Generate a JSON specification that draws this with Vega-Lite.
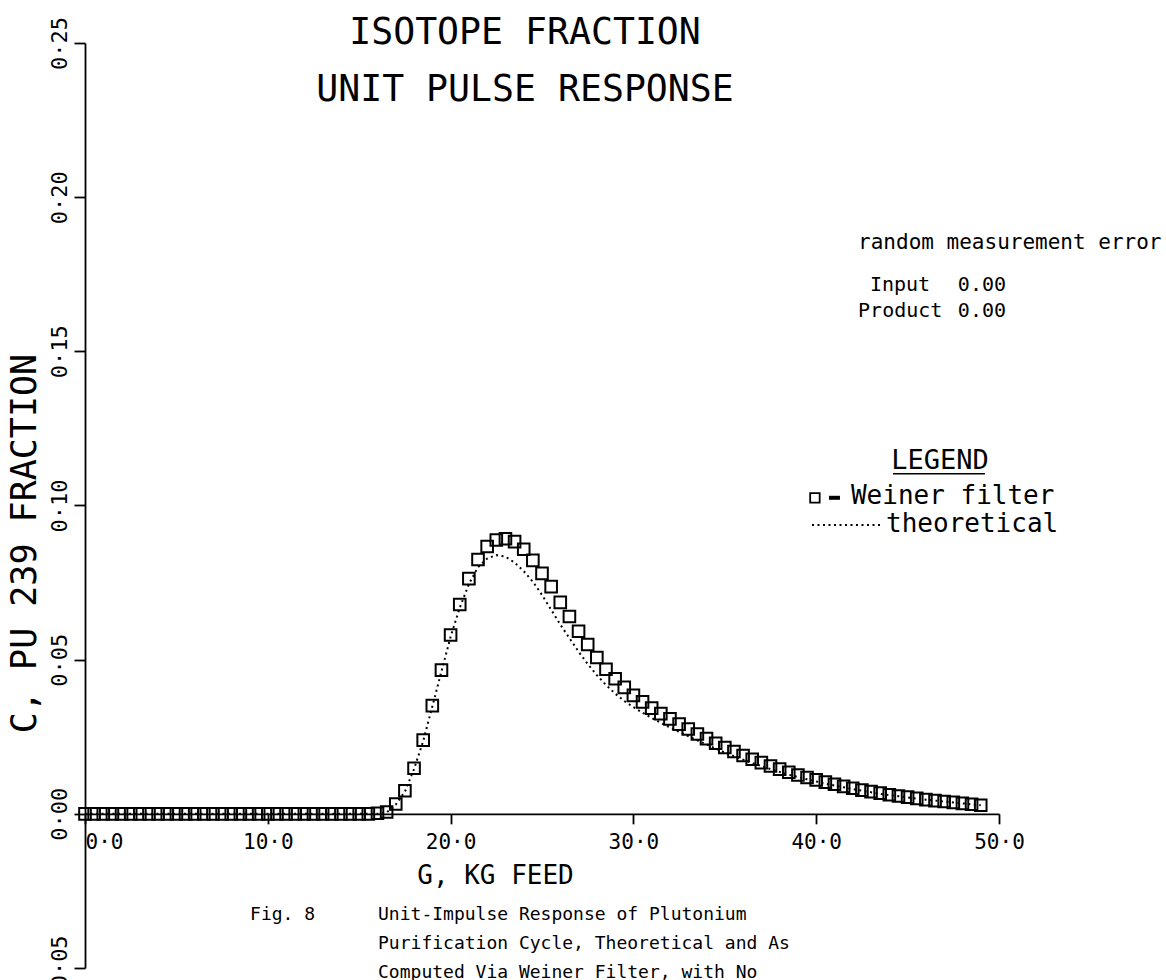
{
  "$schema": "https://vega.github.io/schema/vega-lite/v6.json",
  "width": 914,
  "height": 925,
  "autosize": {"type": "none"},
  "padding": {"left": 85, "top": 43, "right": 167, "bottom": 12},
  "background": "white",
  "config": {
    "view": {"stroke": null},
    "font": "DejaVu Sans Mono",
    "axis": {
      "grid": false,
      "domainColor": "black",
      "domainWidth": 1.8,
      "tickColor": "black",
      "tickWidth": 1.8,
      "labelColor": "black",
      "labelFont": "DejaVu Sans Mono",
      "labelFontSize": 21,
      "titleColor": "black",
      "titleFont": "DejaVu Sans Mono",
      "titleFontWeight": "normal"
    }
  },
  "datasets": {
    "pulse": [
      {"g": 0.0, "weiner": 0, "theoretical": 0},
      {"g": 0.5, "weiner": 0, "theoretical": 0},
      {"g": 1.0, "weiner": 0, "theoretical": 0},
      {"g": 1.5, "weiner": 0, "theoretical": 0},
      {"g": 2.0, "weiner": 0, "theoretical": 0},
      {"g": 2.5, "weiner": 0, "theoretical": 0},
      {"g": 3.0, "weiner": 0, "theoretical": 0},
      {"g": 3.5, "weiner": 0, "theoretical": 0},
      {"g": 4.0, "weiner": 0, "theoretical": 0},
      {"g": 4.5, "weiner": 0, "theoretical": 0},
      {"g": 5.0, "weiner": 0, "theoretical": 0},
      {"g": 5.5, "weiner": 0, "theoretical": 0},
      {"g": 6.0, "weiner": 0, "theoretical": 0},
      {"g": 6.5, "weiner": 0, "theoretical": 0},
      {"g": 7.0, "weiner": 0, "theoretical": 0},
      {"g": 7.5, "weiner": 0, "theoretical": 0},
      {"g": 8.0, "weiner": 0, "theoretical": 0},
      {"g": 8.5, "weiner": 0, "theoretical": 0},
      {"g": 9.0, "weiner": 0, "theoretical": 0},
      {"g": 9.5, "weiner": 0, "theoretical": 0},
      {"g": 10.0, "weiner": 0, "theoretical": 0},
      {"g": 10.5, "weiner": 0, "theoretical": 0},
      {"g": 11.0, "weiner": 0, "theoretical": 0},
      {"g": 11.5, "weiner": 0, "theoretical": 0},
      {"g": 12.0, "weiner": 0, "theoretical": 0},
      {"g": 12.5, "weiner": 0, "theoretical": 0},
      {"g": 13.0, "weiner": 0, "theoretical": 0},
      {"g": 13.5, "weiner": 0, "theoretical": 0},
      {"g": 14.0, "weiner": 0, "theoretical": 0},
      {"g": 14.5, "weiner": 0, "theoretical": 0},
      {"g": 15.0, "weiner": 0, "theoretical": 0},
      {"g": 15.5, "weiner": 0, "theoretical": 0},
      {"g": 16.0, "weiner": 0.0002, "theoretical": 0},
      {"g": 16.5, "weiner": 0.0006, "theoretical": 0.0004},
      {"g": 17.0, "weiner": 0.0032, "theoretical": 0.0030},
      {"g": 17.5, "weiner": 0.0075, "theoretical": 0.0072},
      {"g": 18.0, "weiner": 0.0148, "theoretical": 0.0145},
      {"g": 18.5, "weiner": 0.0239, "theoretical": 0.0236},
      {"g": 19.0, "weiner": 0.0351, "theoretical": 0.0348},
      {"g": 19.5, "weiner": 0.0466, "theoretical": 0.0462},
      {"g": 20.0, "weiner": 0.0580, "theoretical": 0.0574},
      {"g": 20.5, "weiner": 0.0679, "theoretical": 0.0668},
      {"g": 21.0, "weiner": 0.0763, "theoretical": 0.0745},
      {"g": 21.5, "weiner": 0.0825, "theoretical": 0.0800},
      {"g": 22.0, "weiner": 0.0867, "theoretical": 0.0828},
      {"g": 22.5, "weiner": 0.0888, "theoretical": 0.0839},
      {"g": 23.0, "weiner": 0.0892, "theoretical": 0.0834},
      {"g": 23.5, "weiner": 0.0883, "theoretical": 0.0815},
      {"g": 24.0, "weiner": 0.0858, "theoretical": 0.0787},
      {"g": 24.5, "weiner": 0.0822, "theoretical": 0.0753},
      {"g": 25.0, "weiner": 0.0780, "theoretical": 0.0710},
      {"g": 25.5, "weiner": 0.0737, "theoretical": 0.0662},
      {"g": 26.0, "weiner": 0.0686, "theoretical": 0.0614},
      {"g": 26.5, "weiner": 0.0640, "theoretical": 0.0570},
      {"g": 27.0, "weiner": 0.0592, "theoretical": 0.0526},
      {"g": 27.5, "weiner": 0.0549, "theoretical": 0.0486},
      {"g": 28.0, "weiner": 0.0507, "theoretical": 0.0450},
      {"g": 28.5, "weiner": 0.0469, "theoretical": 0.0418},
      {"g": 29.0, "weiner": 0.0438, "theoretical": 0.0390},
      {"g": 29.5, "weiner": 0.0410, "theoretical": 0.0366},
      {"g": 30.0, "weiner": 0.0384, "theoretical": 0.0346},
      {"g": 30.5, "weiner": 0.0363, "theoretical": 0.0328},
      {"g": 31.0, "weiner": 0.0343, "theoretical": 0.0311},
      {"g": 31.5, "weiner": 0.0325, "theoretical": 0.0295},
      {"g": 32.0, "weiner": 0.0308, "theoretical": 0.0280},
      {"g": 32.5, "weiner": 0.0291, "theoretical": 0.0266},
      {"g": 33.0, "weiner": 0.0275, "theoretical": 0.0252},
      {"g": 33.5, "weiner": 0.0259, "theoretical": 0.0238},
      {"g": 34.0, "weiner": 0.0244, "theoretical": 0.0225},
      {"g": 34.5, "weiner": 0.0229, "theoretical": 0.0212},
      {"g": 35.0, "weiner": 0.0215, "theoretical": 0.0199},
      {"g": 35.5, "weiner": 0.0202, "theoretical": 0.0187},
      {"g": 36.0, "weiner": 0.0189, "theoretical": 0.0176},
      {"g": 36.5, "weiner": 0.0177, "theoretical": 0.0165},
      {"g": 37.0, "weiner": 0.0166, "theoretical": 0.0155},
      {"g": 37.5, "weiner": 0.0155, "theoretical": 0.0145},
      {"g": 38.0, "weiner": 0.0145, "theoretical": 0.0136},
      {"g": 38.5, "weiner": 0.0135, "theoretical": 0.0127},
      {"g": 39.0, "weiner": 0.0126, "theoretical": 0.0119},
      {"g": 39.5, "weiner": 0.0118, "theoretical": 0.0112},
      {"g": 40.0, "weiner": 0.0110, "theoretical": 0.0105},
      {"g": 40.5, "weiner": 0.0103, "theoretical": 0.0098},
      {"g": 41.0, "weiner": 0.0096, "theoretical": 0.0092},
      {"g": 41.5, "weiner": 0.0089, "theoretical": 0.0086},
      {"g": 42.0, "weiner": 0.0083, "theoretical": 0.0080},
      {"g": 42.5, "weiner": 0.0077, "theoretical": 0.0075},
      {"g": 43.0, "weiner": 0.0072, "theoretical": 0.0070},
      {"g": 43.5, "weiner": 0.0067, "theoretical": 0.0065},
      {"g": 44.0, "weiner": 0.0062, "theoretical": 0.0061},
      {"g": 44.5, "weiner": 0.0058, "theoretical": 0.0057},
      {"g": 45.0, "weiner": 0.0054, "theoretical": 0.0053},
      {"g": 45.5, "weiner": 0.0050, "theoretical": 0.0049},
      {"g": 46.0, "weiner": 0.0046, "theoretical": 0.0046},
      {"g": 46.5, "weiner": 0.0043, "theoretical": 0.0043},
      {"g": 47.0, "weiner": 0.0040, "theoretical": 0.0040},
      {"g": 47.5, "weiner": 0.0037, "theoretical": 0.0037},
      {"g": 48.0, "weiner": 0.0034, "theoretical": 0.0034},
      {"g": 48.5, "weiner": 0.0031, "theoretical": 0.0031},
      {"g": 49.0, "weiner": 0.0028, "theoretical": 0.0028}
    ]
  },
  "layer": [
    {
      "data": {"name": "pulse"},
      "mark": {"type": "line", "color": "black", "strokeWidth": 2, "strokeDash": [2, 3.5]},
      "encoding": {
        "x": {
          "field": "g",
          "type": "quantitative",
          "scale": {"domain": [0, 50], "nice": false, "zero": false},
          "axis": {
            "title": "G, KG FEED",
            "titleFontSize": 26,
            "titleX": 410,
            "titleY": 70,
            "titleAlign": "center",
            "titleBaseline": "alphabetic",
            "offset": -154.17,
            "values": [0, 10, 20, 30, 40, 50],
            "labelExpr": "replace(format(datum.value, '.1f'), '.', '·')",
            "labelFlush": false,
            "labelAlign": {"condition": {"test": "datum.value == 0", "value": "left"}, "value": "center"},
            "labelPadding": 8,
            "tickSize": 10
          }
        },
        "y": {
          "field": "theoretical",
          "type": "quantitative",
          "scale": {"domain": [-0.05, 0.25], "nice": false, "zero": false},
          "axis": {
            "title": "C, PU 239 FRACTION",
            "titleFontSize": 35,
            "titleAngle": 270,
            "titleX": -43,
            "titleY": 500,
            "titleAlign": "center",
            "titleBaseline": "bottom",
            "values": [-0.05, 0, 0.05, 0.1, 0.15, 0.2, 0.25],
            "labelExpr": "replace(format(datum.value, '.2f'), '.', '·')",
            "labelAngle": 270,
            "labelFontSize": 22,
            "labelFlush": false,
            "labelPadding": 3,
            "tickSize": 11
          }
        }
      }
    },
    {
      "data": {"name": "pulse"},
      "mark": {"type": "point", "shape": "square", "filled": false, "color": "black", "strokeWidth": 2, "size": 135, "opacity": 1},
      "encoding": {
        "x": {"field": "g", "type": "quantitative"},
        "y": {"field": "weiner", "type": "quantitative"}
      }
    },
    {
      "data": {"values": [{}]},
      "mark": {"type": "text", "align": "center", "baseline": "alphabetic", "font": "DejaVu Sans Mono", "fontSize": 36.5, "color": "black", "lineHeight": 57},
      "encoding": {
        "x": {"datum": 24.07, "type": "quantitative"},
        "y": {"datum": 0.2497, "type": "quantitative"},
        "text": {"value": ["ISOTOPE FRACTION", "UNIT PULSE RESPONSE"]}
      }
    },
    {
      "data": {"values": [{}]},
      "mark": {"type": "text", "align": "left", "baseline": "alphabetic", "font": "DejaVu Sans Mono", "fontSize": 21, "color": "black"},
      "encoding": {
        "x": {"datum": 42.29, "type": "quantitative"},
        "y": {"datum": 0.1832, "type": "quantitative"},
        "text": {"value": "random measurement error"}
      }
    },
    {
      "data": {"values": [{}]},
      "mark": {"type": "text", "align": "left", "baseline": "alphabetic", "font": "DejaVu Sans Mono", "fontSize": 20, "color": "black"},
      "encoding": {
        "x": {"datum": 42.94, "type": "quantitative"},
        "y": {"datum": 0.1696, "type": "quantitative"},
        "text": {"value": "Input"}
      }
    },
    {
      "data": {"values": [{}]},
      "mark": {"type": "text", "align": "left", "baseline": "alphabetic", "font": "DejaVu Sans Mono", "fontSize": 20, "color": "black"},
      "encoding": {
        "x": {"datum": 42.29, "type": "quantitative"},
        "y": {"datum": 0.1612, "type": "quantitative"},
        "text": {"value": "Product"}
      }
    },
    {
      "data": {"values": [{}]},
      "mark": {"type": "text", "align": "left", "baseline": "alphabetic", "font": "DejaVu Sans Mono", "fontSize": 20, "color": "black", "lineHeight": 26},
      "encoding": {
        "x": {"datum": 47.75, "type": "quantitative"},
        "y": {"datum": 0.1696, "type": "quantitative"},
        "text": {"value": ["0.00", "0.00"]}
      }
    },
    {
      "data": {"values": [{}]},
      "mark": {"type": "text", "align": "center", "baseline": "alphabetic", "font": "DejaVu Sans Mono", "fontSize": 27, "color": "black"},
      "encoding": {
        "x": {"datum": 46.77, "type": "quantitative"},
        "y": {"datum": 0.1119, "type": "quantitative"},
        "text": {"value": "LEGEND"}
      }
    },
    {
      "data": {"values": [{}]},
      "mark": {"type": "rule", "color": "black", "strokeWidth": 1.5},
      "encoding": {
        "x": {"datum": 44.2, "type": "quantitative"},
        "x2": {"datum": 49.23},
        "y": {"datum": 0.1103, "type": "quantitative"}
      }
    },
    {
      "data": {"values": [{}]},
      "mark": {"type": "point", "shape": "square", "filled": false, "color": "black", "strokeWidth": 1.8, "size": 90, "opacity": 1},
      "encoding": {
        "x": {"datum": 39.93, "type": "quantitative"},
        "y": {"datum": 0.1025, "type": "quantitative"}
      }
    },
    {
      "data": {"values": [{}]},
      "mark": {"type": "rule", "color": "black", "strokeWidth": 4},
      "encoding": {
        "x": {"datum": 40.7, "type": "quantitative"},
        "x2": {"datum": 41.3},
        "y": {"datum": 0.1025, "type": "quantitative"}
      }
    },
    {
      "data": {"values": [{}]},
      "mark": {"type": "text", "align": "left", "baseline": "alphabetic", "font": "DejaVu Sans Mono", "fontSize": 26, "color": "black"},
      "encoding": {
        "x": {"datum": 41.9, "type": "quantitative"},
        "y": {"datum": 0.1005, "type": "quantitative"},
        "text": {"value": "Weiner filter"}
      }
    },
    {
      "data": {"values": [{}]},
      "mark": {"type": "rule", "color": "black", "strokeWidth": 2, "strokeDash": [2, 3.5]},
      "encoding": {
        "x": {"datum": 39.77, "type": "quantitative"},
        "x2": {"datum": 43.49},
        "y": {"datum": 0.0937, "type": "quantitative"}
      }
    },
    {
      "data": {"values": [{}]},
      "mark": {"type": "text", "align": "left", "baseline": "alphabetic", "font": "DejaVu Sans Mono", "fontSize": 26, "color": "black"},
      "encoding": {
        "x": {"datum": 43.82, "type": "quantitative"},
        "y": {"datum": 0.0915, "type": "quantitative"},
        "text": {"value": "theoretical"}
      }
    },
    {
      "data": {"values": [{}]},
      "mark": {"type": "text", "align": "left", "baseline": "alphabetic", "font": "DejaVu Sans Mono", "fontSize": 18, "color": "black"},
      "encoding": {
        "x": {"datum": 9.03, "type": "quantitative"},
        "y": {"datum": -0.0344, "type": "quantitative"},
        "text": {"value": "Fig. 8"}
      }
    },
    {
      "data": {"values": [{}]},
      "mark": {"type": "text", "align": "left", "baseline": "alphabetic", "font": "DejaVu Sans Mono", "fontSize": 18, "color": "black", "lineHeight": 29},
      "encoding": {
        "x": {"datum": 16.03, "type": "quantitative"},
        "y": {"datum": -0.0344, "type": "quantitative"},
        "text": {"value": ["Unit-Impulse Response of Plutonium", "Purification Cycle, Theoretical and As", "Computed Via Weiner Filter, with No"]}
      }
    }
  ]
}
